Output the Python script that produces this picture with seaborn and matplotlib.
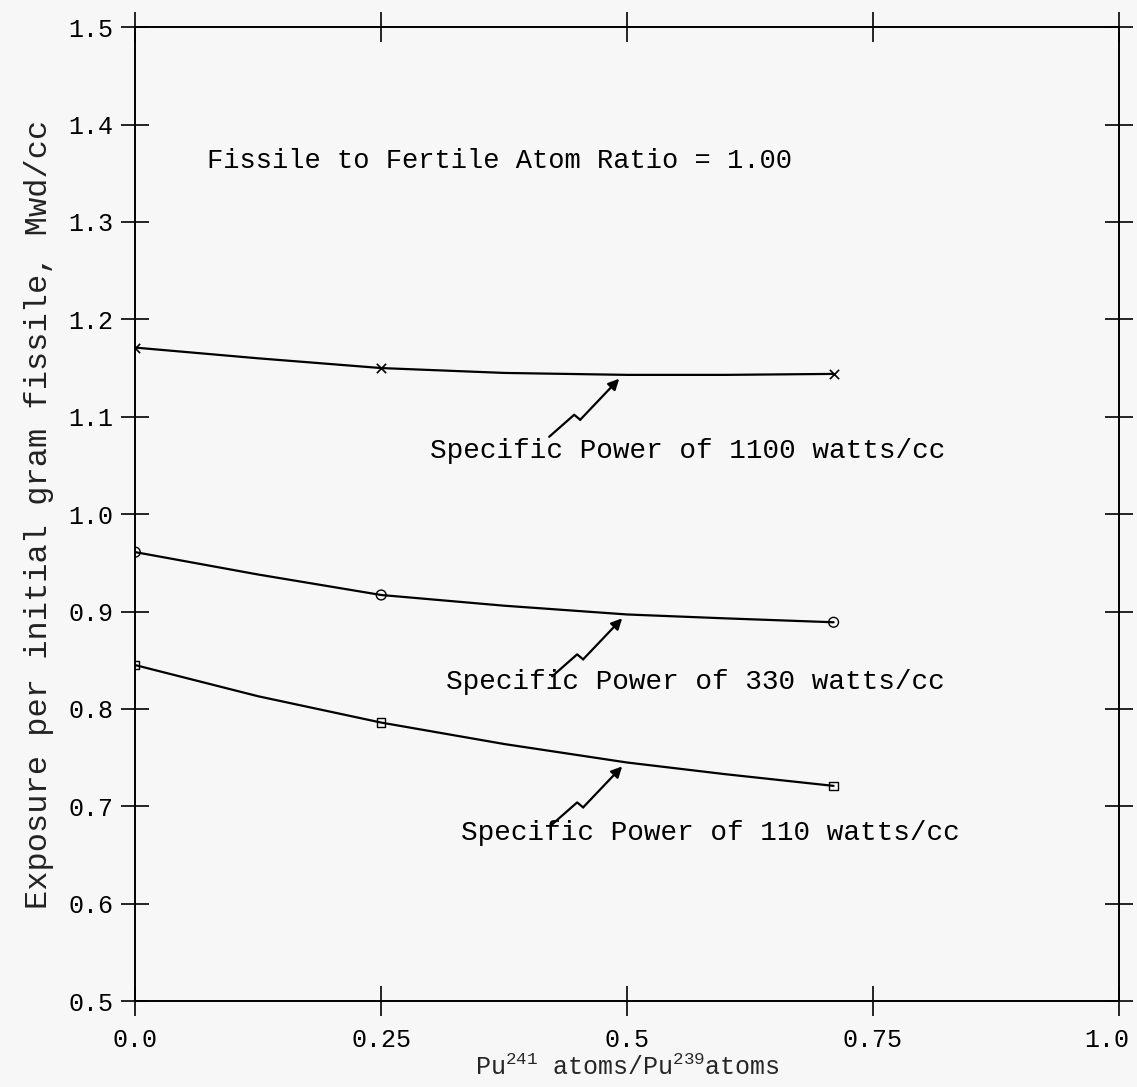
import matplotlib
matplotlib.use("Agg")
import matplotlib.pyplot as plt
import matplotlib.transforms as mtransforms
import seaborn as sns
import pandas as pd

# ---- data ----
ratio_x = [0.0, 0.125, 0.25, 0.375, 0.5, 0.6, 0.71]
exposure_1100 = [1.171, 1.160, 1.150, 1.145, 1.143, 1.143, 1.144]
exposure_330 = [0.961, 0.938, 0.917, 0.906, 0.897, 0.893, 0.889]
exposure_110 = [0.845, 0.813, 0.786, 0.764, 0.745, 0.733, 0.721]

marker_x = [0.0, 0.25, 0.71]
marker_1100 = [1.171, 1.150, 1.144]
marker_330 = [0.961, 0.917, 0.889]
marker_110 = [0.845, 0.786, 0.721]

series_labels = ["Specific Power of 1100 watts/cc",
                 "Specific Power of 330 watts/cc",
                 "Specific Power of 110 watts/cc"]
x_ticks = [0.0, 0.25, 0.5, 0.75, 1.0]
x_ticklabels = ["0.0", "0.25", "0.5", "0.75", "1.0"]
y_ticks = [0.5, 0.6, 0.7, 0.8, 0.9, 1.0, 1.1, 1.2, 1.3, 1.4, 1.5]
y_ticklabels = ["0.5", "0.6", "0.7", "0.8", "0.9", "1.0", "1.1", "1.2", "1.3", "1.4", "1.5"]

sns.set_theme(style="white")
plt.rcParams['font.family'] = ['Liberation Mono', 'DejaVu Sans Mono']
plt.rcParams['mathtext.fontset'] = 'custom'
plt.rcParams['mathtext.rm'] = 'Liberation Mono'

bg = "#f7f7f7"
fig = plt.figure(figsize=(11.37, 10.87), dpi=100, facecolor=bg)
ax = fig.add_axes([0.119, 0.079, 0.865, 0.896], facecolor=bg)

lines_df = pd.DataFrame({
    "x": ratio_x * 3,
    "y": exposure_1100 + exposure_330 + exposure_110,
    "series": [series_labels[0]] * len(ratio_x) + [series_labels[1]] * len(ratio_x)
              + [series_labels[2]] * len(ratio_x),
})
sns.lineplot(data=lines_df, x="x", y="y", units="series", estimator=None,
             color="black", lw=1.6, ax=ax, legend=False)

sns.scatterplot(x=marker_x, y=marker_1100, marker="x", color="black", s=45,
                linewidth=1.2, ax=ax)
sns.scatterplot(x=marker_x, y=marker_330, marker="o", facecolor="none",
                edgecolor="black", s=50, linewidth=1.0, ax=ax)
sns.scatterplot(x=marker_x, y=marker_110, marker="s", facecolor="none",
                edgecolor="black", s=35, linewidth=1.0, ax=ax)

ax.set_xlim(0, 1.0)
ax.set_ylim(0.5, 1.5)
ax.set_xticks(x_ticks)
ax.set_xticklabels(x_ticklabels, fontsize=18)
ax.set_yticks(y_ticks)
ax.set_yticklabels(y_ticklabels, fontsize=18)
ax.tick_params(axis="y", which="both", direction="inout", length=20, width=1.2,
               left=True, right=True, pad=6, colors="black")
ax.tick_params(axis="x", which="both", direction="inout", length=22, width=1.2,
               bottom=True, top=True, pad=8, colors="black")
for side in ["left", "right", "top", "bottom"]:
    ax.spines[side].set_color("black")
    ax.spines[side].set_linewidth(1.4)

# nudge the last x tick label inside the figure, as in the reference
last_lbl = ax.get_xticklabels()[-1]
last_lbl.set_transform(last_lbl.get_transform()
                       + mtransforms.ScaledTranslation(-12 / 100, 0, fig.dpi_scale_trans))

ax.set_xlabel(r"Pu$^{241}$ atoms/Pu$^{239}$atoms", fontsize=18, labelpad=2)
ax.set_ylabel("Exposure per initial gram fissile, Mwd/cc", fontsize=23,
              labelpad=10, color="#222222")

ax.text(0.073, 1.363, "Fissile to Fertile Atom Ratio = 1.00", fontsize=19.5,
        va="center", ha="left", color="black")

text_pos = [(0.30, 1.065), (0.316, 0.828), (0.331, 0.673)]
arrow_heads = [(0.492, exposure_1100[4] - 0.004), (0.495, exposure_330[4] - 0.004),
               (0.495, exposure_110[4] - 0.004)]
# zig-zag arrow shape in display pixels relative to the arrow head
zig_dx = [-70, -45, -39]
zig_dy = [-58, -36, -41]
inv = ax.transData.inverted()
for (tx, ty), label, (hx, hy) in zip(text_pos, series_labels, arrow_heads):
    ax.text(tx, ty, label, fontsize=20, va="center", ha="left", color="black")
    hd = ax.transData.transform((hx, hy))
    pts = [inv.transform((hd[0] + dx, hd[1] + dy)) for dx, dy in zip(zig_dx, zig_dy)]
    ax.plot([p[0] for p in pts], [p[1] for p in pts], color="black", lw=1.6)
    ax.annotate("", xy=(hx, hy), xytext=(pts[-1][0], pts[-1][1]),
                arrowprops=dict(arrowstyle="-|>", color="black", lw=1.6,
                                mutation_scale=16, shrinkA=0, shrinkB=0))

fig.savefig("out.png", dpi=100, facecolor=bg)
